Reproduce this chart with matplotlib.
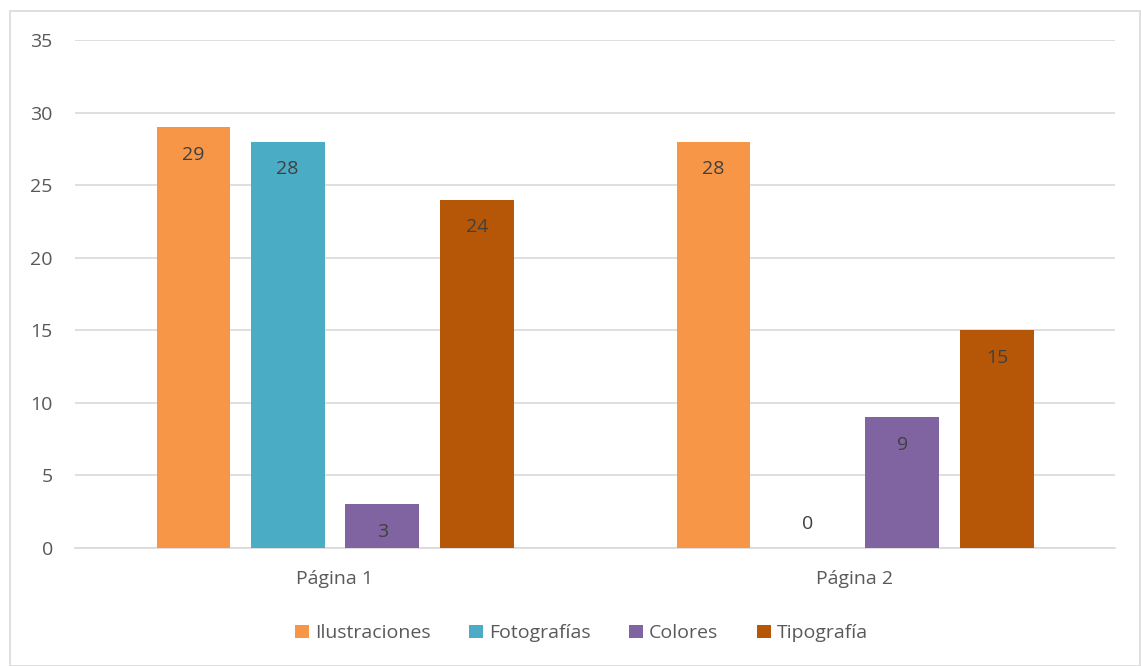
import matplotlib
matplotlib.use("Agg")
import matplotlib.pyplot as plt
from matplotlib.patches import Rectangle
import numpy as np

categories = ["Página 1", "Página 2"]
series_names = ["Ilustraciones", "Fotografías", "Colores", "Tipografía"]
ilustraciones = [29, 28]
fotografias = [28, 0]
colores = [3, 9]
tipografia = [24, 15]
series_values = [ilustraciones, fotografias, colores, tipografia]
colors = ["#F79646", "#4BACC6", "#8064A2", "#B65708"]
yticks = [0, 5, 10, 15, 20, 25, 30, 35]

plt.rcParams['font.family'] = ['Open Sans', 'DejaVu Sans']
txt = "#595959"
fs = 14

fig = plt.figure(figsize=(11.41, 6.66), dpi=100)
fig.patches.append(Rectangle((10/1141, 0.5/666), 1130/1141, 655/666, transform=fig.transFigure,
                             fill=False, edgecolor="#D9D9D9", linewidth=1.2))
ax = fig.add_axes([75/1141, 1-548/666, 1040/1141, 508/666])

x = np.arange(len(categories))
offsets = [-0.272, -0.091, 0.091, 0.273]
width = 0.142
for vals, off, c, name in zip(series_values, offsets, colors, series_names):
    bars = ax.bar(x + off, vals, width, color=c, label=name, zorder=3)
    for b, v in zip(bars, vals):
        if v > 0:
            ax.annotate(str(v), (b.get_x() + b.get_width()/2, v), xytext=(0, -20),
                        textcoords="offset points", ha="center", va="center",
                        fontsize=fs, color="#404040", zorder=4)
        else:
            ax.annotate(str(v), (b.get_x() + b.get_width()/2, 0), xytext=(0, 17),
                        textcoords="offset points", ha="center", va="center",
                        fontsize=fs, color="#404040", zorder=4)

ax.set_xlim(-0.5, 1.5)
ax.set_ylim(0, 35)
ax.set_yticks(yticks)
ax.set_xticks(x)
ax.set_xticklabels(categories)
ax.yaxis.grid(True, color="#D9D9D9", linewidth=1.2, zorder=0)
for s in ["top", "right", "left"]:
    ax.spines[s].set_visible(False)
ax.spines["bottom"].set_color("#D9D9D9")
ax.spines["bottom"].set_linewidth(1.2)
ax.tick_params(axis="both", length=0, labelsize=fs, colors=txt)
ax.tick_params(axis="y", pad=16)
ax.tick_params(axis="x", pad=16)

ax.legend(loc="center", bbox_to_anchor=(0.487, -0.168), ncol=4, frameon=False,
          fontsize=fs, labelcolor=txt, handlelength=0.7, handleheight=0.7,
          handletextpad=0.3, columnspacing=2.0)

fig.savefig("out.png", dpi=100)
